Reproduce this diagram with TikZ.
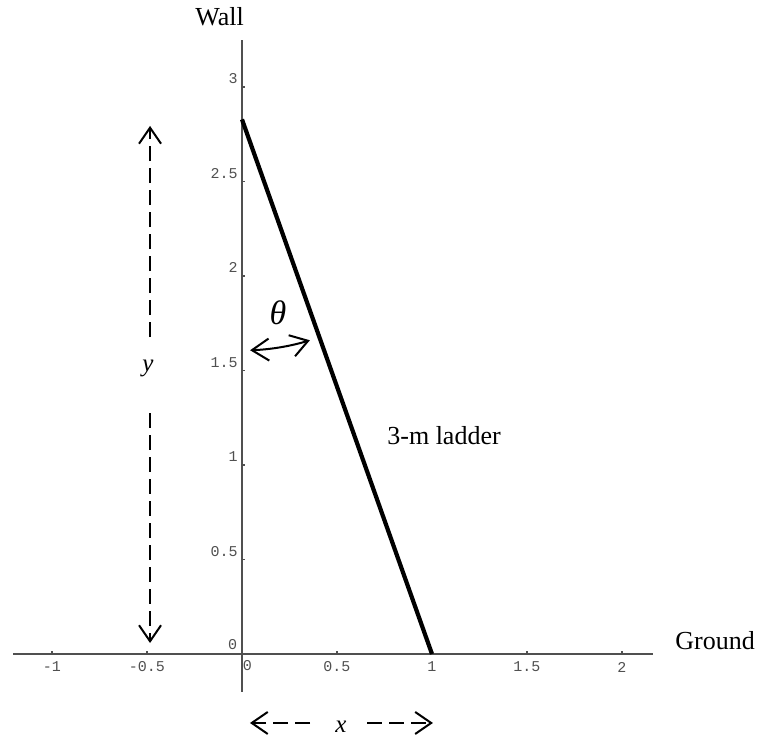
\documentclass[tikz,border=0pt]{standalone}
\usepackage{fontspec}
\setmainfont{Liberation Serif}
\newfontfamily\tickfont{Liberation Mono}
\usetikzlibrary{arrows.meta}
\definecolor{axisgray}{RGB}{80,80,80}
\begin{document}
\begin{tikzpicture}[x=95pt,y=94.5pt,
  axisline/.style={draw=axisgray,line width=0.6pt},
  tickmark/.style={draw=axisgray,line width=0.6pt},
  ticklabel/.style={inner sep=0pt,text=axisgray,font=\tickfont\fontsize{7.5}{8}\selectfont},
  ladderline/.style={draw=black,line width=2.1pt},
  dimarrow/.style={draw=black,line width=1pt,dash pattern=on 7.5pt off 3.5pt,
    -{Straight Barb[length=8pt,width=11pt,line width=1pt]}},
  anglearrow/.style={draw=black,line width=1pt,
    {Straight Barb[length=8.5pt,width=11pt,line width=1pt]}-{Straight Barb[length=8.5pt,width=11pt,line width=1pt]}},
  plainlabel/.style={inner sep=0pt,font=\fontsize{13}{15}\selectfont},
  mathlabel/.style={inner sep=0pt,font=\itshape\fontsize{12.5}{15}\selectfont},
  thetalabel/.style={inner sep=0pt,font=\itshape\fontsize{17}{19}\selectfont}]
\useasboundingbox (-1.27368,-0.44444) rectangle (2.71053,3.46032);

% axes
\coordinate (xaxL) at (-1.205,0);
\coordinate (xaxR) at (2.163,0);
\coordinate (yaxB) at (0,-0.201);
\coordinate (yaxT) at (0,3.249);
\draw[axisline] (xaxL) -- (xaxR);
\draw[axisline] (yaxB) -- (yaxT);

% x ticks
\foreach \v/\t in {-1/-1,-0.5/-0.5,0.5/0.5,1/1,1.5/1.5,2/2} {
  \draw[tickmark] (\v,0) -- ++(0,1.6pt);
  \node[ticklabel] at ([yshift=-6.5pt]\v,0) {\t};
}
\node[ticklabel] at ([xshift=2.7pt,yshift=-5.8pt]0,0) {0};
% y ticks
\foreach \v in {0.5,1,1.5,2,2.5,3} {
  \draw[tickmark] (0,\v) -- ++(1.6pt,0);
  \node[ticklabel,anchor=base east] at ([xshift=-2pt,yshift=1.5pt]0,\v) {\v};
}
\node[ticklabel,anchor=base east] at ([xshift=-2.2pt,yshift=2pt]0,0) {0};

% ladder
\coordinate (top) at (0,2.8284);
\coordinate (foot) at (1,0);
\draw[ladderline] (top) -- (foot);

% angle
\draw[anglearrow] (top) ++(-88:1.222) arc[start angle=-88,end angle=-73,radius=1.222];
\node[thetalabel] (theta) at (0.189,1.807) {θ};

% labels
\node[plainlabel,anchor=base west] (wall) at (-0.2474,3.3228) {Wall};
\node[plainlabel,anchor=base west] (ground) at (2.2789,0.0212) {Ground};
\node[plainlabel,anchor=base west] (ladder) at (0.7632,1.1058) {3-m ladder};

% y dimension
\node[mathlabel] (ylab) at (-0.495,1.513) {y};
\coordinate (yA1) at (-0.484,1.677);
\coordinate (yA2) at (-0.484,2.794);
\coordinate (yB1) at (-0.484,1.275);
\coordinate (yB2) at (-0.484,0.058);
\draw[dimarrow] (yA1) -- (yA2);
\draw[dimarrow] (yB1) -- (yB2);

% x dimension
\node[mathlabel] (xlab) at (0.521,-0.386) {x};
\coordinate (xA1) at (0.358,-0.365);
\coordinate (xA2) at (0.042,-0.365);
\coordinate (xB1) at (0.658,-0.365);
\coordinate (xB2) at (1.005,-0.365);
\draw[dimarrow] (xA1) -- (xA2);
\draw[dimarrow] (xB1) -- (xB2);
\end{tikzpicture}
\end{document}
